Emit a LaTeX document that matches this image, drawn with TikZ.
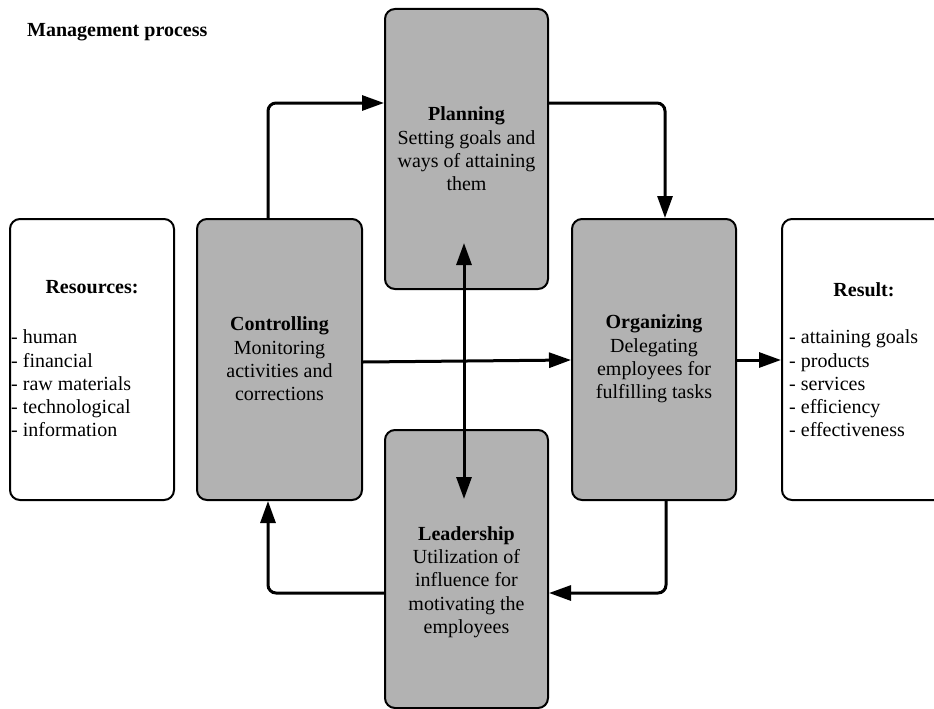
\documentclass[tikz,border=0pt]{standalone}
\usepackage{fontspec}
\setmainfont{Liberation Serif}
\usetikzlibrary{arrows.meta}
\begin{document}
\begin{tikzpicture}[x=1pt,y=-1pt,
  every node/.style={font={\fontsize{20}{23.3}\selectfont}, inner sep=0pt},
  graybox/.style={draw=black, line width=2pt, rounded corners=10pt, fill=boxgray},
  whitebox/.style={draw=black, line width=2pt, rounded corners=10pt, fill=white},
  conn/.style={line width=3pt, rounded corners=8pt, -{Triangle[length=22pt,width=15pt]}},
  txt/.style={align=center}]
\definecolor{boxgray}{RGB}{178,178,178}
\useasboundingbox (0,0) rectangle (934,709);
\clip (0,0) rectangle (934,709);
% boxes
\node[graybox, minimum width=163pt, minimum height=280pt] (plan) at (466.5,149) {};
\node[graybox, minimum width=165pt, minimum height=281pt] (ctrl) at (279.5,359.5) {};
\node[graybox, minimum width=164pt, minimum height=281pt] (org) at (654,359.5) {};
\node[graybox, minimum width=163pt, minimum height=278pt] (lead) at (466.5,569) {};
\node[whitebox, minimum width=164pt, minimum height=281pt] (res) at (92,359.5) {};
\node[whitebox, minimum width=164pt, minimum height=281pt] (resu) at (864,359.5) {};
% texts
\node[anchor=base west] (title) at (27,37) {\textbf{Management process}};
\node[txt] (plantxt) at (466.5,149) {\textbf{Planning}\\Setting goals and\\ways of attaining\\them};
\node[txt] (ctrltxt) at (279.5,359) {\textbf{Controlling}\\Monitoring\\activities and\\corrections};
\node[txt] (orgtxt) at (654,359) {\textbf{Organizing}\\Delegating\\employees for\\fulfilling tasks};
\node[txt] (leadtxt) at (466.5,582) {\textbf{Leadership}\\Utilization of\\influence for\\motivating the\\employees};
\node (reshead) at (92,287) {\textbf{Resources:}};
\node[align=left, anchor=west] (reslist) at (11,383.5) {- human\\- financial\\- raw materials\\- technological\\- information};
\node (resuhead) at (864,290) {\textbf{Result:}};
\node[align=left, anchor=west] (resulist) at (789,383.5) {- attaining goals\\- products\\- services\\- efficiency\\- effectiveness};
% connector helper coordinates
\coordinate (c1) at (268,103);
\coordinate (c2) at (665,103);
\coordinate (c3) at (666,593);
\coordinate (c4) at (268,593);
\coordinate (v1) at (464,243);
\coordinate (v2) at (464,499);
% connectors
\draw[conn] (ctrl.north -| c1) |- (plan.west |- c1);
\draw[conn] (plan.east |- c2) -| (org.north -| c2);
\draw[conn] ([yshift=-2.5pt]ctrl.east) -- ([yshift=-0.5pt]org.west);
\draw[conn] (org.south -| c3) |- (lead.east |- c3);
\draw[conn] (lead.west |- c4) -| (ctrl.south -| c4);
\draw[conn] ([yshift=-0.5pt]org.east) -- ([yshift=-0.5pt]resu.west);
\draw[line width=3pt, {Triangle[length=22pt,width=15pt]}-{Triangle[length=22pt,width=15pt]}] (v1) -- (v2);
\end{tikzpicture}
\end{document}
